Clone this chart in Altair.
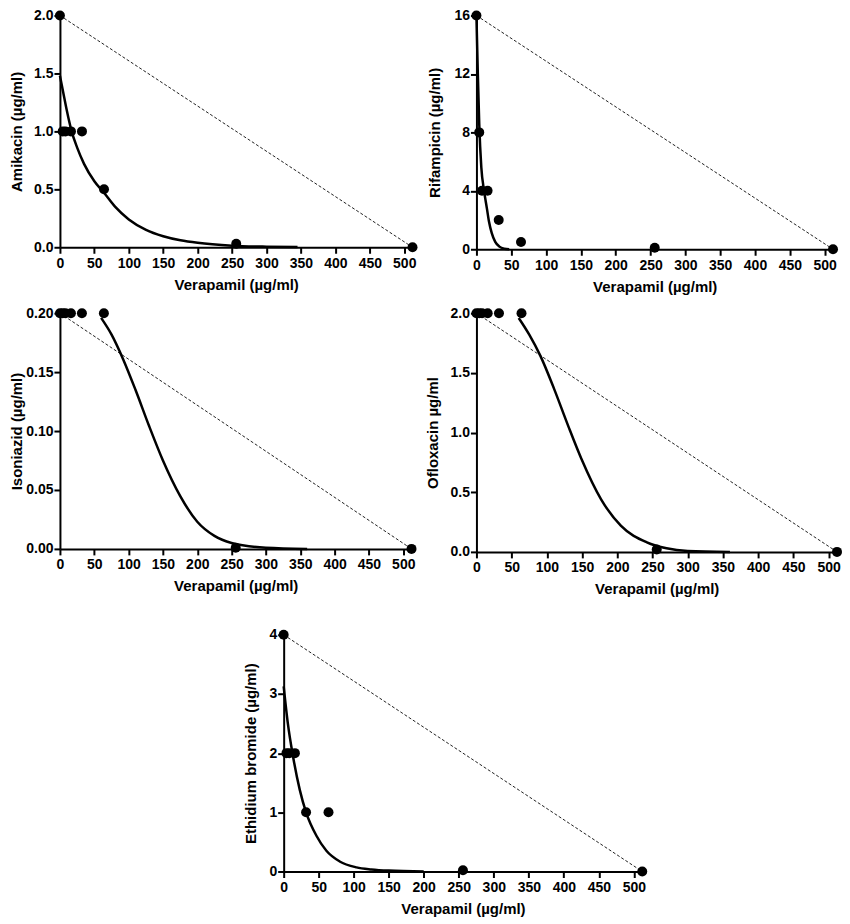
import altair as alt
import pandas as pd

FONT = "Liberation Sans"

# Verapamil concentrations of the measured points (µg/ml)
verapamil = [0, 4, 8, 16, 32, 64, 256, 512]

# Measured MIC points for each drug
amikacin = [2.0, 1.0, 1.0, 1.0, 1.0, 0.5, 0.03, 0.0]
rifampicin = [16, 8, 4, 4, 2, 0.5, 0.1, 0]
isoniazid = [0.2, 0.2, 0.2, 0.2, 0.2, 0.2, 0.001, 0.0]
ofloxacin = [2.0, 2.0, 2.0, 2.0, 2.0, 2.0, 0.02, 0.0]
ethidium = [4, 2, 2, 2, 1, 1, 0.02, 0]

# Fitted curves
amik_fit_x = [0, 5, 10, 17, 25, 35, 50, 64, 80, 100, 125, 150, 175, 200, 250, 300, 345]
amik_fit_y = [1.48, 1.33, 1.18, 1.0, 0.86, 0.72, 0.57, 0.47, 0.35, 0.24, 0.15, 0.095, 0.06, 0.038, 0.014, 0.005, 0.002]

rif_fit_x = [0, 2, 4, 7, 11, 15, 18, 22, 27, 33, 40, 47]
rif_fit_y = [16, 12, 8.6, 5.6, 4.0, 2.8, 1.9, 1.1, 0.5, 0.18, 0.04, 0.0]

inh_fit_x = [60, 75, 92, 110, 130, 150, 175, 200, 225, 250, 300, 360]
inh_fit_y = [0.196, 0.182, 0.161, 0.135, 0.104, 0.075, 0.045, 0.023, 0.011, 0.005, 0.001, 0.0]

ofx_fit_x = [60, 75, 91, 110, 130, 149, 177, 205, 242, 270, 300, 360]
ofx_fit_y = [1.96, 1.82, 1.64, 1.37, 1.06, 0.78, 0.44, 0.22, 0.08, 0.03, 0.008, 0.0]

etb_fit_x = [0, 6, 13, 23, 32, 47, 61, 80, 104, 125, 150, 200]
etb_fit_y = [3.13, 2.5, 1.97, 1.38, 1.0, 0.6, 0.35, 0.17, 0.07, 0.035, 0.015, 0.002]

x_ticks = [0, 50, 100, 150, 200, 250, 300, 350, 400, 450, 500]
x_max = 512


def panel(yp, fit_x, fit_y, ytitle, ymax, yticks, yfmt, w, h, tpad):
    pts = pd.DataFrame({"x": verapamil, "y": yp})
    fit = pd.DataFrame({"x": fit_x, "y": fit_y})
    add = pd.DataFrame({"x": [0, x_max], "y": [yp[0], yp[-1]]})
    xs = alt.Scale(domain=[0, x_max], nice=False, zero=True)
    ys = alt.Scale(domain=[0, ymax], nice=False, zero=True)
    common = dict(
        grid=False, domainColor="black", domainWidth=2, tickColor="black",
        tickWidth=2, tickSize=6, labelFont=FONT, labelFontSize=14,
        labelFontWeight="bold", labelColor="black", titleFont=FONT,
        titleFontSize=15, titleFontWeight="bold", titleColor="black",
        labelFlush=False, labelOverlap=False, minExtent=0, maxExtent=0,
    )
    xax = alt.Axis(title="Verapamil (µg/ml)", values=x_ticks, format="d",
                   labelPadding=3, titlePadding=30, **common)
    yax = alt.Axis(title=ytitle, values=yticks, format=yfmt,
                   labelPadding=1, titlePadding=tpad, **common)
    X = alt.X("x:Q", scale=xs, axis=xax)
    Y = alt.Y("y:Q", scale=ys, axis=yax)
    dashed = alt.Chart(add).mark_line(
        strokeDash=[3, 2], strokeWidth=1, color="#222222"
    ).encode(x=X, y=Y)
    curve = alt.Chart(fit).mark_line(
        interpolate="monotone", strokeWidth=2.5, color="black"
    ).encode(x=X, y=Y)
    points = alt.Chart(pts).mark_circle(
        size=100, color="black", opacity=1
    ).encode(x=X, y=Y)
    return alt.layer(dashed, curve, points).properties(width=w, height=h)


def spacer(w, h):
    return alt.Chart(pd.DataFrame({"v": [0]})).mark_point(
        opacity=0, size=0
    ).encode(x=alt.value(0), y=alt.value(0)).properties(width=w, height=h)


p1 = panel(amikacin, amik_fit_x, amik_fit_y, "Amikacin (µg/ml)", 2.0,
           [0, 0.5, 1.0, 1.5, 2.0], ".1f", 353, 232, 35)
p2 = panel(rifampicin, rif_fit_x, rif_fit_y, "Rifampicin (µg/ml)", 16,
           [0, 4, 8, 12, 16], "d", 357, 234, 34)
p3 = panel(isoniazid, inh_fit_x, inh_fit_y, "Isoniazid (µg/ml)", 0.2,
           [0, 0.05, 0.10, 0.15, 0.20], ".2f", 352, 236, 35)
p4 = panel(ofloxacin, ofx_fit_x, ofx_fit_y, "Ofloxacin µg/ml", 2.0,
           [0, 0.5, 1.0, 1.5, 2.0], ".1f", 361, 239, 36)
p5 = panel(ethidium, etb_fit_x, etb_fit_y, "Ethidium bromide (µg/ml)", 4,
           [0, 1, 2, 3, 4], "d", 359, 237, 25)

top_grid = alt.concat(
    spacer(51, 1), p1, spacer(62, 1), p2,
    spacer(51, 1), p3, spacer(62, 1), p4,
    columns=4, bounds="flush", align="each",
    spacing=alt.RowColnumber(row=64, column=1),
)
bottom_row = alt.hconcat(spacer(275, 1), p5, spacing=1, bounds="flush")

chart = alt.vconcat(top_grid, bottom_row, spacing=31).properties(
    padding=0
).configure_view(stroke=None)

chart.save("out.html", embed_options={"renderer": "svg", "actions": False})
